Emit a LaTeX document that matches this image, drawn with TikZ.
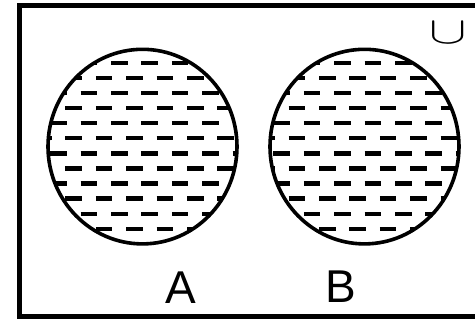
\documentclass[tikz,border=0pt]{standalone}
\usepackage{fontspec}
\setmainfont{Liberation Sans}
\begin{document}
\begin{tikzpicture}[x=1pt,y=-1pt,
  frame/.style={line width=5pt},
  setline/.style={line width=3.6pt},
  dashbar/.style={line width=4.4pt},
  lbl/.style={font=\fontsize{46}{46}\selectfont, anchor=base, inner sep=0pt},
  cupsym/.style={inner sep=0pt}]
\useasboundingbox (0,0) rectangle (475,322);
\clip (0,0) rectangle (475,322);
\fill[white] (0,0) rectangle (475,322);
\draw[frame] (19.5,5.5) rectangle (500,316);
\foreach \cx/\off in {142.5/-31.5, 364.5/-30.3} {
  \begin{scope}
    \clip (\cx,146.6) ellipse [x radius=94.5, y radius=97.3];
    \foreach \i in {0,...,11} {
      \pgfmathsetmacro\yy{62.7+15.1*\i}
      \pgfmathsetmacro\rowoff{\off-15.2*mod(\i,2)}
      \foreach \k in {-4,...,4} {
        \draw[dashbar] ({\cx+\rowoff+30.4*\k},\yy) -- ++(16.5,0);
      }
    }
  \end{scope}
  \draw[setline] (\cx,146.6) ellipse [x radius=94.5, y radius=97.3];
}
\node[lbl] (labA) at (180.5,303) {A};
\node[lbl] (labB) at (341,302.5) {B};
\node[cupsym] (univ) at (448.5,32.5) {\scalebox{5.6}[3.8]{$\cup$}};
\end{tikzpicture}
\end{document}
